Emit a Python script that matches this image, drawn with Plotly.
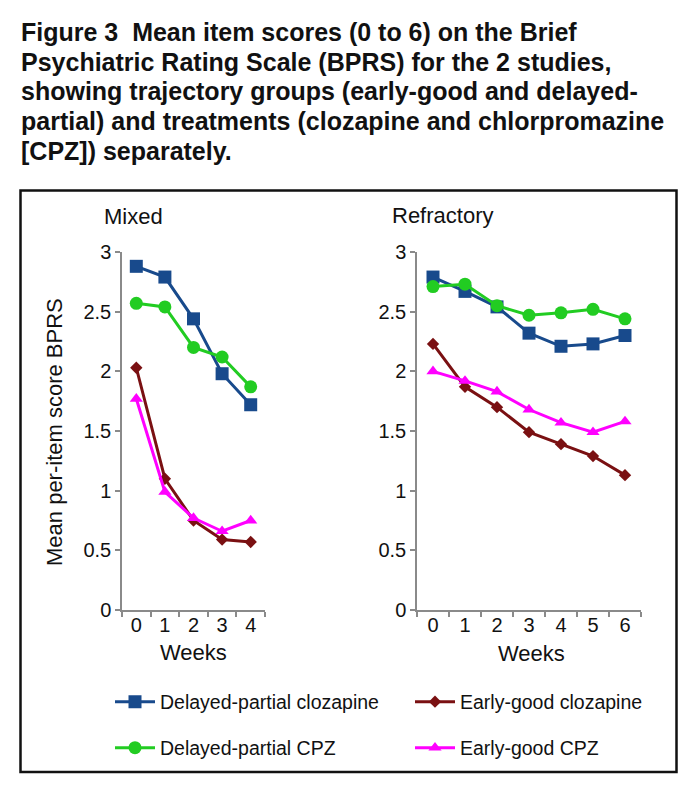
import plotly.graph_objects as go

# ---------------- data ----------------
weeks_mixed = [0, 1, 2, 3, 4]
weeks_refractory = [0, 1, 2, 3, 4, 5, 6]

series_names = [
    "Delayed-partial clozapine",
    "Early-good clozapine",
    "Delayed-partial CPZ",
    "Early-good CPZ",
]

mixed_dp_clozapine = [2.88, 2.79, 2.44, 1.98, 1.72]
mixed_eg_clozapine = [2.03, 1.10, 0.75, 0.59, 0.57]
mixed_dp_cpz = [2.57, 2.54, 2.20, 2.12, 1.87]
mixed_eg_cpz = [1.77, 0.99, 0.77, 0.66, 0.75]

refr_dp_clozapine = [2.79, 2.67, 2.54, 2.32, 2.21, 2.23, 2.30]
refr_eg_clozapine = [2.23, 1.87, 1.70, 1.49, 1.39, 1.29, 1.13]
refr_dp_cpz = [2.71, 2.73, 2.55, 2.47, 2.49, 2.52, 2.44]
refr_eg_cpz = [2.00, 1.92, 1.83, 1.68, 1.57, 1.49, 1.58]

y_tick_vals = [0, 0.5, 1, 1.5, 2, 2.5, 3]
y_tick_text = ["0", "0.5", "1", "1.5", "2", "2.5", "3"]

title_lines = [
    "Figure 3\u00a0\u00a0Mean item scores (0 to 6) on the Brief",
    "Psychiatric Rating Scale (BPRS) for the 2 studies,",
    "showing trajectory groups (early-good and delayed-",
    "partial) and treatments (clozapine and chlorpromazine",
    "[CPZ]) separately.",
]

# ---------------- style ----------------
# the page body has an 8px default margin, so the figure is 8px smaller than the window
OFF = 8
W, H = 696 - OFF, 795 - OFF
FONT = "Liberation Sans, Arial, Helvetica, sans-serif"
colors = ["#184A8C", "#7A1012", "#22CC22", "#FF00FF"]
symbols = ["square", "diamond", "circle", "triangle-up"]
sizes = [13, 9.5, 13, 11.5]
legend_ids = ["legend", "legend2", "legend3", "legend4"]
legend_pos = [(110, 702), (410, 702), (110, 748), (410, 748)]


def px_x(v):
    return (v - OFF) / W


def px_y(v):
    return 1 - (v - OFF) / H


mixed_sets = [mixed_dp_clozapine, mixed_eg_clozapine, mixed_dp_cpz, mixed_eg_cpz]
refr_sets = [refr_dp_clozapine, refr_eg_clozapine, refr_dp_cpz, refr_eg_cpz]

fig = go.Figure()
for i, name in enumerate(series_names):
    fig.add_trace(go.Scatter(
        x=weeks_mixed, y=mixed_sets[i], name=name, mode="lines+markers",
        line=dict(color=colors[i], width=3),
        marker=dict(symbol=symbols[i], size=sizes[i], color=colors[i], line=dict(width=0)),
        xaxis="x", yaxis="y", showlegend=True, legend=legend_ids[i], cliponaxis=False,
    ))
for i, name in enumerate(series_names):
    fig.add_trace(go.Scatter(
        x=weeks_refractory, y=refr_sets[i], name=name, mode="lines+markers",
        line=dict(color=colors[i], width=3),
        marker=dict(symbol=symbols[i], size=sizes[i], color=colors[i], line=dict(width=0)),
        xaxis="x2", yaxis="y2", showlegend=False, cliponaxis=False,
    ))

axis_gray = "#8A8A8A"
tick_font = dict(family=FONT, size=20, color="#111111")

common_x = dict(
    showline=True, linecolor=axis_gray, linewidth=1.5, showgrid=False, zeroline=False,
    ticks="", ticklen=0, tickfont=tick_font, ticklabelstandoff=-4, automargin=False,
    minor=dict(tick0=0.5, dtick=1, ticks="outside", ticklen=5, tickcolor=axis_gray, tickwidth=1.5, showgrid=False),
    fixedrange=True,
)
common_y = dict(
    showline=True, linecolor=axis_gray, linewidth=1.5, showgrid=False, zeroline=False,
    range=[0, 3], tickmode="array", tickvals=y_tick_vals, ticktext=y_tick_text,
    ticks="outside", ticklen=5, tickcolor=axis_gray, tickwidth=1.5, tickfont=tick_font,
    ticklabelstandoff=0, fixedrange=True, automargin=False,
)

y_dom = [px_y(610), px_y(252)]
layout_legends = {}
for lid, (lx, ly) in zip(legend_ids, legend_pos):
    layout_legends[lid] = dict(
        orientation="h", x=px_x(lx), y=px_y(ly), xanchor="left", yanchor="middle",
        font=dict(family=FONT, size=19.5, color="#111111"), itemwidth=40,
        bgcolor="rgba(0,0,0,0)", itemclick=False, itemdoubleclick=False,
    )

fig.update_layout(
    width=W, height=H,
    margin=dict(l=0, r=0, t=0, b=0, autoexpand=False),
    paper_bgcolor="white", plot_bgcolor="white",
    font=dict(family=FONT, color="#111111"),
    xaxis=dict(domain=[px_x(122), px_x(265)], range=[-0.5, 4.5], tickmode="array",
               tickvals=weeks_mixed, ticktext=[str(w) for w in weeks_mixed], anchor="y", **common_x),
    yaxis=dict(domain=y_dom, anchor="x", **common_y),
    xaxis2=dict(domain=[px_x(417), px_x(641)], range=[-0.5, 6.5], tickmode="array",
                tickvals=weeks_refractory, ticktext=[str(w) for w in weeks_refractory], anchor="y2", **common_x),
    yaxis2=dict(domain=y_dom, anchor="x2", **common_y),
    showlegend=True,
    **layout_legends,
)

annotations = []
baselines = [41, 71, 100, 130, 160]
for line, b in zip(title_lines, baselines):
    annotations.append(dict(
        text="<b>" + line + "</b>", x=px_x(19), y=px_y(b - 8.7), xref="paper", yref="paper",
        xanchor="left", yanchor="middle", showarrow=False,
        font=dict(family=FONT, size=25, color="#111111"),
    ))

label_font = dict(family=FONT, size=22, color="#111111")
annotations += [
    dict(text="Mixed", x=px_x(102), y=px_y(216), xref="paper", yref="paper", xanchor="left",
         yanchor="middle", showarrow=False, font=label_font),
    dict(text="Refractory", x=px_x(390), y=px_y(215), xref="paper", yref="paper", xanchor="left",
         yanchor="middle", showarrow=False, font=label_font),
    dict(text="Weeks", x=px_x(193.5), y=px_y(652), xref="paper", yref="paper", xanchor="center",
         yanchor="middle", showarrow=False, font=label_font),
    dict(text="Weeks", x=px_x(531.5), y=px_y(653), xref="paper", yref="paper", xanchor="center",
         yanchor="middle", showarrow=False, font=label_font),
    dict(text="Mean per-item score BPRS", x=px_x(55), y=px_y(432), xref="paper", yref="paper",
         xanchor="center", yanchor="middle", textangle=-90, showarrow=False, font=label_font),
]
fig.update_layout(annotations=annotations)

fig.add_shape(type="rect", xref="paper", yref="paper",
              x0=px_x(20.5), x1=px_x(676.5), y0=px_y(772), y1=px_y(190.5),
              line=dict(color="#111111", width=2.5), fillcolor="rgba(0,0,0,0)", layer="below")

fig.write_html("out.html", config={"displayModeBar": False})
